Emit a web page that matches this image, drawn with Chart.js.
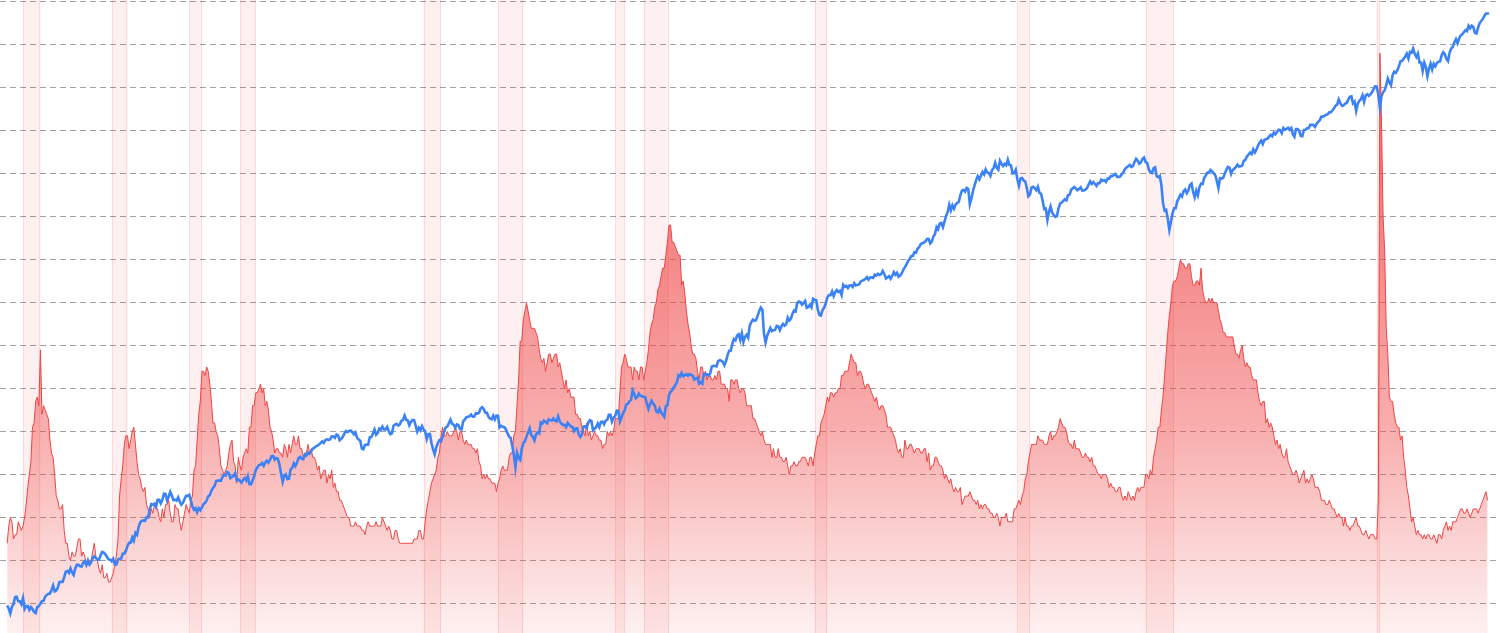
<!DOCTYPE html>
<html>
<head>
<meta charset="utf-8">
<script src="https://cdn.jsdelivr.net/npm/chart.js@4.4.1/dist/chart.umd.min.js"></script>
<style>
  html, body { margin: 0; padding: 0; background: #fff; }
  #contenedor { width: 1500px; height: 633px; position: relative; }
</style>
</head>
<body>
<div id="contenedor"><canvas id="grafico"></canvas></div>
<script>
// monthly series, first value = Jan 1948
const startYear = 1948;

// unemployment rate (%), one row per year
const unemployment = [
  3.4, 3.8, 4.0, 3.9, 3.5, 3.6, 3.6, 3.9, 3.8, 3.7, 3.8, 4.0,
  4.3, 4.7, 5.0, 5.3, 6.1, 6.2, 6.7, 6.8, 6.6, 7.9, 6.4, 6.6,
  6.5, 6.4, 6.3, 5.8, 5.5, 5.4, 5.0, 4.5, 4.4, 4.2, 4.2, 4.3,
  3.7, 3.4, 3.4, 3.1, 3.0, 3.2, 3.1, 3.1, 3.3, 3.5, 3.5, 3.1,
  3.2, 3.1, 2.9, 2.9, 3.0, 3.0, 3.2, 3.4, 3.1, 3.0, 2.8, 2.7,
  2.9, 2.6, 2.6, 2.7, 2.5, 2.5, 2.6, 2.7, 2.9, 3.1, 3.5, 4.5,
  4.9, 5.2, 5.7, 5.9, 5.9, 5.6, 5.8, 6.0, 6.1, 5.7, 5.3, 5.0,
  4.9, 4.7, 4.6, 4.7, 4.3, 4.2, 4.0, 4.2, 4.1, 4.3, 4.2, 4.2,
  4.0, 3.9, 4.2, 4.0, 4.3, 4.3, 4.4, 4.1, 3.9, 3.9, 4.3, 4.2,
  4.2, 3.9, 3.7, 3.9, 4.1, 4.3, 4.2, 4.1, 4.4, 4.5, 5.1, 5.2,
  5.8, 6.4, 6.7, 7.4, 7.4, 7.3, 7.5, 7.4, 7.1, 6.7, 6.2, 6.2,
  6.0, 5.9, 5.6, 5.2, 5.1, 5.0, 5.1, 5.2, 5.5, 5.7, 5.8, 5.3,
  5.2, 4.8, 5.4, 5.2, 5.1, 5.4, 5.5, 5.6, 5.5, 6.1, 6.1, 6.6,
  6.6, 6.9, 6.9, 7.0, 7.1, 6.9, 7.0, 6.6, 6.7, 6.5, 6.1, 6.0,
  5.8, 5.5, 5.6, 5.6, 5.5, 5.5, 5.4, 5.7, 5.6, 5.4, 5.7, 5.5,
  5.7, 5.9, 5.7, 5.7, 5.9, 5.6, 5.6, 5.4, 5.5, 5.5, 5.7, 5.5,
  5.6, 5.4, 5.4, 5.3, 5.1, 5.2, 4.9, 5.0, 5.1, 5.1, 4.8, 5.0,
  4.9, 5.1, 4.7, 4.8, 4.6, 4.6, 4.4, 4.4, 4.3, 4.2, 4.1, 4.0,
  4.0, 3.8, 3.8, 3.8, 3.9, 3.8, 3.8, 3.8, 3.7, 3.7, 3.6, 3.8,
  3.9, 3.8, 3.8, 3.8, 3.8, 3.9, 3.8, 3.8, 3.8, 4.0, 3.9, 3.8,
  3.7, 3.8, 3.7, 3.5, 3.5, 3.7, 3.7, 3.5, 3.4, 3.4, 3.4, 3.4,
  3.4, 3.4, 3.4, 3.4, 3.4, 3.5, 3.5, 3.5, 3.7, 3.7, 3.5, 3.5,
  3.9, 4.2, 4.4, 4.6, 4.8, 4.9, 5.0, 5.1, 5.4, 5.5, 5.9, 6.1,
  5.9, 5.9, 6.0, 5.9, 5.9, 5.9, 6.0, 6.1, 6.0, 5.8, 6.0, 6.0,
  5.8, 5.7, 5.8, 5.7, 5.7, 5.7, 5.6, 5.6, 5.5, 5.6, 5.3, 5.2,
  4.9, 5.0, 4.9, 5.0, 4.9, 4.9, 4.8, 4.8, 4.8, 4.6, 4.8, 4.9,
  5.1, 5.2, 5.1, 5.1, 5.1, 5.4, 5.5, 5.5, 5.9, 6.0, 6.6, 7.2,
  8.1, 8.1, 8.6, 8.8, 9.0, 8.8, 8.6, 8.4, 8.4, 8.4, 8.3, 8.2,
  7.9, 7.7, 7.6, 7.7, 7.4, 7.6, 7.8, 7.8, 7.6, 7.7, 7.8, 7.8,
  7.5, 7.6, 7.4, 7.2, 7.0, 7.2, 6.9, 7.0, 6.8, 6.8, 6.8, 6.4,
  6.4, 6.3, 6.3, 6.1, 6.0, 5.9, 6.2, 5.9, 6.0, 5.8, 5.9, 6.0,
  5.9, 5.9, 5.8, 5.8, 5.6, 5.7, 5.7, 6.0, 5.9, 6.0, 5.9, 6.0,
  6.3, 6.3, 6.3, 6.9, 7.5, 7.6, 7.8, 7.7, 7.5, 7.5, 7.5, 7.2,
  7.5, 7.4, 7.4, 7.2, 7.5, 7.5, 7.2, 7.4, 7.6, 7.9, 8.3, 8.5,
  8.6, 8.9, 9.0, 9.3, 9.4, 9.6, 9.8, 9.8, 10.1, 10.4, 10.8, 10.8,
  10.4, 10.4, 10.3, 10.2, 10.1, 10.1, 9.4, 9.5, 9.2, 8.8, 8.5, 8.3,
  8.0, 7.8, 7.8, 7.7, 7.4, 7.2, 7.5, 7.5, 7.3, 7.4, 7.2, 7.3,
  7.3, 7.2, 7.2, 7.3, 7.2, 7.4, 7.4, 7.1, 7.1, 7.1, 7.0, 7.0,
  6.7, 7.2, 7.2, 7.1, 7.2, 7.2, 7.0, 6.9, 7.0, 7.0, 6.9, 6.6,
  6.6, 6.6, 6.6, 6.3, 6.3, 6.2, 6.1, 6.0, 5.9, 6.0, 5.8, 5.7,
  5.7, 5.7, 5.7, 5.4, 5.6, 5.4, 5.4, 5.6, 5.4, 5.4, 5.3, 5.3,
  5.4, 5.2, 5.0, 5.2, 5.2, 5.3, 5.2, 5.2, 5.3, 5.3, 5.4, 5.4,
  5.4, 5.3, 5.2, 5.4, 5.4, 5.2, 5.5, 5.7, 5.9, 5.9, 6.2, 6.3,
  6.4, 6.6, 6.8, 6.7, 6.9, 6.9, 6.8, 6.9, 6.9, 7.0, 7.0, 7.3,
  7.3, 7.4, 7.4, 7.4, 7.6, 7.8, 7.7, 7.6, 7.6, 7.3, 7.4, 7.4,
  7.3, 7.1, 7.0, 7.1, 7.1, 7.0, 6.9, 6.8, 6.7, 6.8, 6.6, 6.5,
  6.6, 6.6, 6.5, 6.4, 6.1, 6.1, 6.1, 6.0, 5.9, 5.8, 5.6, 5.5,
  5.6, 5.4, 5.4, 5.8, 5.6, 5.6, 5.7, 5.7, 5.6, 5.5, 5.6, 5.6,
  5.6, 5.5, 5.5, 5.6, 5.6, 5.3, 5.5, 5.1, 5.2, 5.2, 5.4, 5.4,
  5.3, 5.2, 5.2, 5.1, 4.9, 5.0, 4.9, 4.8, 4.9, 4.7, 4.6, 4.7,
  4.6, 4.6, 4.7, 4.3, 4.4, 4.5, 4.5, 4.5, 4.6, 4.5, 4.4, 4.4,
  4.3, 4.4, 4.2, 4.3, 4.2, 4.3, 4.3, 4.2, 4.2, 4.1, 4.1, 4.0,
  4.0, 4.1, 4.0, 3.8, 4.0, 4.0, 4.0, 4.1, 3.9, 3.9, 3.9, 3.9,
  4.2, 4.2, 4.3, 4.4, 4.3, 4.5, 4.6, 4.9, 5.0, 5.3, 5.5, 5.7,
  5.7, 5.7, 5.7, 5.9, 5.8, 5.8, 5.8, 5.7, 5.7, 5.7, 5.9, 6.0,
  5.8, 5.9, 5.9, 6.0, 6.1, 6.3, 6.2, 6.1, 6.1, 6.0, 5.8, 5.7,
  5.7, 5.6, 5.8, 5.6, 5.6, 5.6, 5.5, 5.4, 5.4, 5.5, 5.4, 5.4,
  5.3, 5.4, 5.2, 5.2, 5.1, 5.0, 5.0, 4.9, 5.0, 5.0, 5.0, 4.9,
  4.7, 4.8, 4.7, 4.7, 4.6, 4.6, 4.7, 4.7, 4.5, 4.4, 4.5, 4.4,
  4.6, 4.5, 4.4, 4.5, 4.4, 4.6, 4.7, 4.6, 4.7, 4.7, 4.7, 5.0,
  5.0, 4.9, 5.1, 5.0, 5.4, 5.6, 5.8, 6.1, 6.1, 6.5, 6.8, 7.3,
  7.8, 8.3, 8.7, 9.0, 9.4, 9.5, 9.5, 9.6, 9.8, 10.0, 9.9, 9.9,
  9.8, 9.8, 9.9, 9.9, 9.6, 9.4, 9.4, 9.5, 9.5, 9.4, 9.8, 9.3,
  9.1, 9.0, 9.0, 9.1, 9.0, 9.1, 9.0, 9.0, 9.0, 8.8, 8.6, 8.5,
  8.3, 8.3, 8.2, 8.2, 8.2, 8.2, 8.2, 8.0, 7.8, 7.8, 7.7, 7.9,
  8.0, 7.7, 7.5, 7.6, 7.5, 7.5, 7.3, 7.2, 7.2, 7.2, 6.9, 6.7,
  6.6, 6.7, 6.7, 6.2, 6.3, 6.1, 6.2, 6.1, 5.9, 5.7, 5.8, 5.6,
  5.7, 5.5, 5.4, 5.4, 5.6, 5.3, 5.2, 5.1, 5.0, 5.0, 5.1, 5.0,
  4.8, 4.9, 5.0, 5.1, 4.8, 4.9, 4.8, 4.9, 5.0, 4.9, 4.7, 4.7,
  4.7, 4.6, 4.4, 4.4, 4.4, 4.3, 4.3, 4.4, 4.3, 4.2, 4.2, 4.1,
  4.0, 4.1, 4.0, 4.0, 3.8, 4.0, 3.8, 3.8, 3.7, 3.8, 3.8, 3.9,
  4.0, 3.8, 3.8, 3.7, 3.6, 3.6, 3.7, 3.6, 3.5, 3.6, 3.6, 3.6,
  3.5, 3.5, 4.4, 14.8, 13.2, 11.0, 10.2, 8.4, 7.8, 6.8, 6.7, 6.7,
  6.4, 6.2, 6.1, 6.1, 5.8, 5.9, 5.4, 5.1, 4.7, 4.5, 4.2, 3.9,
  4.0, 3.8, 3.6, 3.7, 3.6, 3.6, 3.5, 3.6, 3.5, 3.6, 3.6, 3.5,
  3.5, 3.6, 3.5, 3.4, 3.6, 3.6, 3.5, 3.7, 3.8, 3.9, 3.7, 3.8,
  3.7, 3.9, 3.9, 3.9, 4.0, 4.1, 4.2, 4.2, 4.1, 4.1, 4.2, 4.1,
  4.0, 4.1, 4.2, 4.2, 4.2, 4.1, 4.2, 4.3, 4.4, null, 4.6, 4.4
];

// S&P 500 month-end close, first value = Dec 1947
const sp500 = [
  15.30,
  14.83, 14.10, 15.08, 15.48, 16.69, 16.74, 15.97, 15.97, 15.49, 16.54, 14.75, 15.20,
  15.22, 14.62, 15.06, 14.74, 14.33, 14.15, 15.04, 15.22, 15.58, 16.04, 16.06, 16.76,
  17.05, 17.22, 17.29, 17.96, 18.78, 17.69, 17.84, 18.42, 19.45, 19.53, 19.51, 20.43,
  21.66, 21.80, 21.40, 22.43, 21.52, 20.96, 22.40, 23.28, 23.26, 22.94, 22.88, 23.77,
  24.14, 23.26, 24.37, 23.32, 23.86, 24.96, 25.40, 25.03, 24.54, 24.52, 25.66, 26.57,
  26.38, 25.90, 25.29, 24.62, 24.54, 24.14, 24.75, 23.32, 23.35, 24.54, 24.76, 24.81,
  26.08, 26.15, 26.94, 28.26, 29.19, 29.21, 30.88, 29.83, 32.31, 31.68, 34.24, 35.98,
  36.63, 36.76, 36.58, 37.96, 37.91, 41.03, 43.52, 43.18, 43.67, 42.34, 45.51, 45.48,
  43.82, 45.34, 48.48, 48.38, 45.20, 46.97, 49.39, 47.51, 45.35, 45.58, 45.08, 46.67,
  44.72, 43.26, 44.11, 45.74, 47.43, 47.37, 47.91, 45.22, 42.42, 41.06, 41.72, 39.99,
  41.70, 40.84, 42.10, 43.44, 44.09, 45.24, 47.19, 47.75, 50.06, 51.33, 52.48, 55.21,
  55.42, 55.41, 55.44, 57.59, 58.68, 58.47, 60.51, 59.60, 56.88, 57.52, 58.28, 59.89,
  55.61, 56.12, 55.34, 54.37, 55.83, 56.92, 55.51, 58.07, 53.52, 53.39, 55.54, 58.11,
  61.78, 63.44, 65.06, 65.31, 66.56, 64.64, 66.76, 68.07, 66.73, 68.62, 71.32, 71.55,
  68.84, 69.96, 69.55, 65.24, 59.63, 54.75, 58.23, 59.12, 56.27, 56.52, 62.26, 63.10,
  66.20, 64.29, 66.57, 69.80, 70.80, 69.37, 69.13, 72.50, 71.70, 74.01, 73.23, 75.02,
  77.04, 77.80, 78.98, 79.46, 80.37, 81.69, 83.18, 81.83, 84.18, 84.86, 84.42, 84.75,
  87.56, 87.43, 86.16, 89.11, 88.42, 84.12, 85.25, 87.17, 89.96, 92.42, 91.61, 92.43,
  92.88, 91.22, 89.23, 91.06, 86.13, 84.74, 83.60, 77.10, 76.56, 80.20, 80.45, 80.33,
  86.61, 86.78, 90.20, 94.01, 89.08, 90.64, 94.75, 93.64, 96.71, 93.90, 94.00, 96.47,
  92.24, 89.36, 90.20, 97.59, 98.68, 99.58, 97.74, 98.86, 102.67, 103.41, 108.37, 103.86,
  103.01, 98.13, 101.51, 103.69, 103.46, 97.71, 91.83, 95.51, 93.12, 97.24, 93.81, 92.06,
  85.02, 89.50, 89.63, 81.52, 76.55, 72.72, 78.05, 81.52, 84.21, 83.25, 87.20, 92.15,
  95.88, 96.75, 100.31, 103.95, 99.63, 98.70, 95.58, 99.03, 98.34, 94.23, 93.99, 102.09,
  103.94, 106.57, 107.20, 107.67, 109.53, 107.14, 107.39, 111.09, 110.55, 111.58, 116.67, 118.05,
  116.03, 111.68, 111.52, 106.97, 104.95, 104.26, 108.22, 104.25, 108.43, 108.29, 95.96, 97.55,
  96.57, 96.22, 93.98, 90.31, 87.28, 86.00, 79.31, 72.15, 63.54, 73.90, 69.97, 68.56,
  76.98, 81.59, 83.36, 87.30, 91.15, 95.19, 88.75, 86.88, 83.87, 89.04, 91.24, 90.19,
  100.86, 99.71, 102.77, 101.64, 100.18, 104.28, 103.44, 102.91, 105.24, 102.90, 102.10, 107.46,
  102.03, 99.82, 98.42, 98.44, 96.12, 100.48, 98.85, 96.77, 96.53, 92.34, 94.83, 95.10,
  89.25, 87.04, 89.21, 96.83, 97.24, 95.53, 100.68, 103.29, 102.54, 93.15, 94.70, 96.11,
  99.93, 96.28, 101.59, 101.76, 99.08, 102.91, 103.81, 109.32, 109.32, 101.82, 106.16, 107.94,
  114.16, 113.66, 102.09, 106.29, 111.24, 114.24, 121.67, 122.38, 125.46, 127.47, 140.52, 135.76,
  129.55, 131.27, 136.00, 132.81, 132.59, 131.21, 130.92, 122.79, 116.18, 121.89, 126.35, 122.55,
  120.40, 113.11, 111.96, 116.44, 111.88, 109.61, 107.09, 119.51, 120.42, 133.71, 138.54, 140.64,
  145.30, 148.06, 152.96, 164.42, 162.39, 168.11, 162.56, 164.40, 166.07, 163.55, 166.40, 164.93,
  163.41, 157.06, 159.18, 160.05, 150.55, 153.18, 150.66, 166.68, 166.10, 166.09, 163.58, 167.24,
  179.63, 181.18, 180.66, 179.83, 189.55, 191.85, 190.92, 188.63, 182.08, 189.82, 202.17, 211.28,
  211.78, 226.92, 238.90, 235.52, 247.35, 250.84, 236.12, 252.93, 231.32, 243.98, 249.22, 242.17,
  274.08, 284.20, 291.70, 288.36, 290.10, 304.00, 318.66, 329.80, 321.83, 251.79, 230.30, 247.08,
  257.07, 267.82, 258.89, 261.33, 262.16, 273.50, 272.02, 261.52, 271.91, 278.97, 273.70, 277.72,
  297.47, 288.86, 294.87, 309.64, 320.52, 317.98, 346.08, 351.45, 349.15, 340.36, 345.99, 353.40,
  329.08, 331.89, 339.94, 330.80, 361.23, 358.02, 356.15, 322.56, 306.05, 304.00, 322.22, 330.22,
  343.93, 367.07, 375.22, 375.34, 389.83, 371.16, 387.81, 395.43, 387.86, 392.46, 375.22, 417.09,
  408.79, 412.70, 403.69, 414.95, 415.35, 408.14, 424.21, 414.03, 417.80, 418.68, 431.35, 435.71,
  438.78, 443.38, 451.67, 440.19, 450.19, 450.53, 448.13, 463.56, 458.93, 467.83, 461.79, 466.45,
  481.61, 467.14, 445.77, 450.91, 456.50, 444.27, 458.26, 475.49, 462.69, 472.35, 453.69, 459.27,
  470.42, 487.39, 500.71, 514.71, 533.40, 544.75, 562.06, 561.88, 584.41, 581.50, 605.37, 615.93,
  636.02, 640.43, 645.50, 654.17, 669.12, 670.63, 639.95, 651.99, 687.31, 705.27, 757.02, 740.74,
  786.16, 790.82, 757.12, 801.34, 848.28, 885.14, 954.29, 899.47, 947.28, 914.62, 955.40, 970.43,
  980.28, 1049.34, 1101.75, 1111.75, 1090.82, 1133.84, 1120.67, 957.28, 1017.01, 1098.67, 1163.63, 1229.23,
  1279.64, 1238.33, 1286.37, 1335.18, 1301.84, 1372.71, 1328.72, 1320.41, 1282.71, 1362.93, 1388.91, 1469.25,
  1394.46, 1366.42, 1498.58, 1452.43, 1420.60, 1454.60, 1430.83, 1517.68, 1436.51, 1429.40, 1314.95, 1320.28,
  1366.01, 1239.94, 1160.33, 1249.46, 1255.82, 1224.42, 1211.23, 1133.58, 1040.94, 1059.78, 1139.45, 1148.08,
  1130.20, 1106.73, 1147.39, 1076.92, 1067.14, 989.82, 911.62, 916.07, 815.28, 885.76, 936.31, 879.82,
  855.70, 841.15, 848.18, 916.92, 963.59, 974.50, 990.31, 1008.01, 995.97, 1050.71, 1058.20, 1111.92,
  1131.13, 1144.94, 1126.21, 1107.30, 1120.68, 1140.84, 1101.72, 1104.24, 1114.58, 1130.20, 1173.82, 1211.92,
  1181.27, 1203.60, 1180.59, 1156.85, 1191.50, 1191.33, 1234.18, 1220.33, 1228.81, 1207.01, 1249.48, 1248.29,
  1280.08, 1280.66, 1294.83, 1310.61, 1270.09, 1270.20, 1276.66, 1303.82, 1335.85, 1377.94, 1400.63, 1418.30,
  1438.24, 1406.82, 1420.86, 1482.37, 1530.62, 1503.35, 1455.27, 1473.99, 1526.75, 1549.38, 1481.14, 1468.36,
  1378.55, 1330.63, 1322.70, 1385.59, 1400.38, 1280.00, 1267.38, 1282.83, 1166.36, 968.75, 896.24, 903.25,
  825.88, 735.09, 797.87, 872.81, 919.14, 919.32, 987.48, 1020.62, 1057.08, 1036.19, 1095.63, 1115.10,
  1073.87, 1104.49, 1169.43, 1186.69, 1089.41, 1030.71, 1101.60, 1049.33, 1141.20, 1183.26, 1180.55, 1257.64,
  1286.12, 1327.22, 1325.83, 1363.61, 1345.20, 1320.64, 1292.28, 1218.89, 1131.42, 1253.30, 1246.96, 1257.60,
  1312.41, 1365.68, 1408.47, 1397.91, 1310.33, 1362.16, 1379.32, 1406.58, 1440.67, 1412.16, 1416.18, 1426.19,
  1498.11, 1514.68, 1569.19, 1597.57, 1630.74, 1606.28, 1685.73, 1632.97, 1681.55, 1756.54, 1805.81, 1848.36,
  1782.59, 1859.45, 1872.34, 1883.95, 1923.57, 1960.23, 1930.67, 2003.37, 1972.29, 2018.05, 2067.56, 2058.90,
  1994.99, 2104.50, 2067.89, 2085.51, 2107.39, 2063.11, 2103.84, 1972.18, 1920.03, 2079.36, 2080.41, 2043.94,
  1940.24, 1932.23, 2059.74, 2065.30, 2096.95, 2098.86, 2173.60, 2170.95, 2168.27, 2126.15, 2198.81, 2238.83,
  2278.87, 2363.64, 2362.72, 2384.20, 2411.80, 2423.41, 2470.30, 2471.65, 2519.36, 2575.26, 2647.58, 2673.61,
  2823.81, 2713.83, 2640.87, 2648.05, 2705.27, 2718.37, 2816.29, 2901.52, 2913.98, 2711.74, 2760.17, 2506.85,
  2704.10, 2784.49, 2834.40, 2945.83, 2752.06, 2941.76, 2980.38, 2926.46, 2976.74, 3037.56, 3140.98, 3230.78,
  3225.52, 2954.22, 2584.59, 2912.43, 3044.31, 3100.29, 3271.12, 3500.31, 3363.00, 3269.96, 3621.63, 3756.07,
  3714.24, 3811.15, 3972.89, 4181.17, 4204.11, 4297.50, 4395.26, 4522.68, 4307.54, 4605.38, 4567.00, 4766.18,
  4515.55, 4373.94, 4530.41, 4131.93, 4132.15, 3785.38, 4130.29, 3955.00, 3585.62, 3871.98, 4080.11, 3839.50,
  4076.60, 3970.15, 4109.31, 4169.48, 4179.83, 4450.38, 4588.96, 4507.66, 4288.05, 4193.80, 4567.80, 4769.83,
  4845.65, 5096.27, 5254.35, 5035.69, 5277.51, 5460.48, 5522.30, 5648.40, 5762.48, 5705.45, 6032.38, 5881.63,
  6040.53, 5954.50, 5611.85, 5569.06, 5911.69, 6204.95, 6339.39, 6460.26, 6688.46, 6840.20, 6849.09, 6845.50
];

// recessions: [year, month] of peak and trough
const recessionStart = [[1948, 11], [1953, 7], [1957, 8], [1960, 4], [1969, 12], [1973, 11],
  [1980, 1], [1981, 7], [1990, 7], [2001, 3], [2007, 12], [2020, 2]];
const recessionEnd = [[1949, 10], [1954, 5], [1958, 4], [1961, 2], [1970, 11], [1975, 3],
  [1980, 7], [1982, 11], [1991, 3], [2001, 11], [2009, 6], [2020, 4]];

const aAnio = ([y, m]) => y + (m - 1) / 12;

const puntosParo = unemployment.map((v, i) => ({ x: startYear + i / 12, y: v }));
const puntosSP = sp500.map((v, i) => ({ x: startYear + i / 12, y: v }));

// pink vertical bands behind the series
const bandas = {
  id: "bandas",
  beforeDatasetsDraw(chart) {
    const { ctx, chartArea: a, scales: { x } } = chart;
    ctx.save();
    recessionStart.forEach((s, i) => {
      const x0 = x.getPixelForValue(aAnio(s));
      const x1 = x.getPixelForValue(aAnio(recessionEnd[i]));
      ctx.fillStyle = "rgba(239,68,68,0.08)";
      ctx.fillRect(x0, a.top, x1 - x0, a.bottom - a.top);
      ctx.strokeStyle = "rgba(239,68,68,0.14)";
      ctx.lineWidth = 1;
      ctx.beginPath();
      ctx.moveTo(Math.round(x0) + 0.5, a.top);
      ctx.lineTo(Math.round(x0) + 0.5, a.bottom);
      ctx.moveTo(Math.round(x1) - 0.5, a.top);
      ctx.lineTo(Math.round(x1) - 0.5, a.bottom);
      ctx.stroke();
    });
    ctx.restore();
  }
};

const ctx = document.getElementById("grafico").getContext("2d");

new Chart(ctx, {
  type: "line",
  data: {
    datasets: [
      {
        label: "S&P 500",
        data: puntosSP,
        yAxisID: "ySP",
        borderColor: "#3b82f6",
        borderWidth: 2.6,
        pointRadius: 0,
        tension: 0,
        fill: false,
        order: 1
      },
      {
        label: "Unemployment rate",
        data: puntosParo,
        yAxisID: "yParo",
        borderColor: "#ef4444",
        borderWidth: 1,
        pointRadius: 0,
        tension: 0,
        spanGaps: true,
        fill: "start",
        order: 2,
        backgroundColor(c) {
          const { ctx, chartArea } = c.chart;
          if (!chartArea) return "rgba(239,68,68,0.3)";
          const g = ctx.createLinearGradient(0, chartArea.top, 0, chartArea.bottom);
          g.addColorStop(0, "rgba(239,68,68,0.85)");
          g.addColorStop(0.36, "rgba(239,68,68,0.66)");
          g.addColorStop(0.68, "rgba(239,68,68,0.43)");
          g.addColorStop(1, "rgba(239,68,68,0.08)");
          return g;
        }
      }
    ]
  },
  options: {
    responsive: true,
    maintainAspectRatio: false,
    animation: false,
    layout: { padding: 0 },
    plugins: {
      legend: { display: false },
      tooltip: { enabled: false }
    },
    scales: {
      x: {
        type: "linear",
        display: false,
        min: 1947.623,
        max: 2026.57
      },
      yParo: {
        type: "linear",
        position: "left",
        min: 1.314,
        max: 16.035,
        ticks: { display: false, stepSize: 1, includeBounds: false },
        grid: { color: "#a0a0a0", drawTicks: false, lineWidth: 1 },
        border: { display: false, dash: [6, 4] },
        afterFit(scale) { scale.width = 0; }
      },
      ySP: {
        type: "logarithmic",
        display: false,
        min: 11.52,
        max: 7870
      }
    }
  },
  plugins: [bandas]
});
</script>
</body>
</html>
